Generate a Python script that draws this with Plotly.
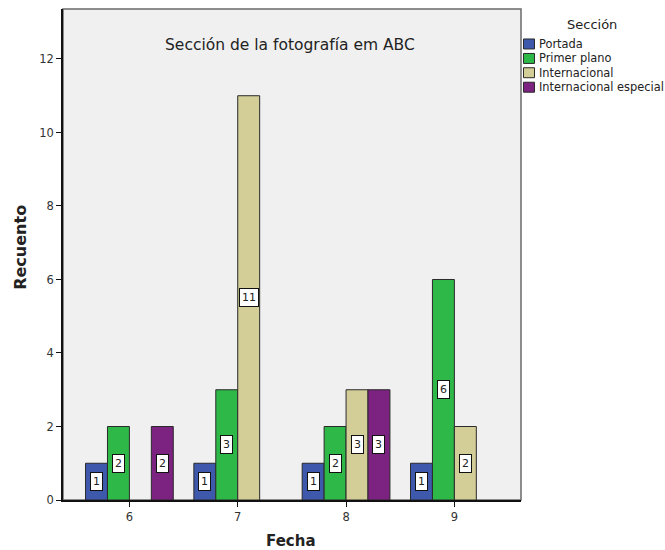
import plotly.graph_objects as go

# Counts of photographs per section and date
fechas = [6, 7, 8, 9]
secciones = ["Portada", "Primer plano", "Internacional", "Internacional especial"]
portada = [1, 1, 1, 1]
primer_plano = [2, 3, 2, 6]
internacional = [None, 11, 3, 2]
internacional_especial = [2, None, 3, None]
y_ticks = [0, 2, 4, 6, 8, 10, 12]

series = [portada, primer_plano, internacional, internacional_especial]
colores = ["#3E58AC", "#2EB848", "#D3CE97", "#7C2280"]

W, H = 665, 550
M_L, M_R, M_T, M_B = 62.5, 144, 8.5, 50
PW, PH = W - M_L - M_R, H - M_T - M_B
BARGAP = 0.19
FONT = "DejaVu Sans"


def px_x(px):
    return (px - M_L) / PW


def px_y(py):
    return (H - M_B - py) / PH


fig = go.Figure()
for nombre, valores, color in zip(secciones, series, colores):
    fig.add_trace(go.Bar(
        x=fechas, y=valores, name=nombre,
        marker=dict(color=color, line=dict(color="#2a2a2a", width=1)),
        showlegend=False, hoverinfo="x+y+name",
    ))

# Value labels in boxes at mid-height of each bar
slot = (1 - BARGAP) / len(series)
annotations = []
for i, valores in enumerate(series):
    off = (i - (len(series) - 1) / 2) * slot
    for f, v in zip(fechas, valores):
        if v is None:
            continue
        annotations.append(dict(
            x=f + off, y=v / 2, xref="x", yref="y", text=str(v),
            showarrow=False, bgcolor="white", bordercolor="#111",
            borderwidth=1, borderpad=2,
            font=dict(family=FONT, size=11, color="#222"),
        ))

# Chart title inside the plotting area
annotations.append(dict(
    x=px_x(290), y=px_y(45), xref="paper", yref="paper",
    text="Sección de la fotografía em ABC", showarrow=False,
    font=dict(family=FONT, size=15.5, color="#222"),
    xanchor="center", yanchor="middle",
))

# Axis titles
annotations.append(dict(
    x=px_x(291), y=px_y(541), xref="paper", yref="paper", text="<b>Fecha</b>",
    showarrow=False, font=dict(family=FONT, size=15, color="#222"),
    xanchor="center", yanchor="middle",
))
annotations.append(dict(
    x=px_x(20), y=px_y(247), xref="paper", yref="paper", text="<b>Recuento</b>",
    showarrow=False, textangle=-90, font=dict(family=FONT, size=16, color="#222"),
    xanchor="center", yanchor="middle",
))

# Legend drawn as swatches and labels to the right of the plot
shapes = [dict(type="rect", xref="paper", yref="paper", x0=0, x1=1, y0=0, y1=1,
               line=dict(color="#6a6a6a", width=1.5), layer="below")]
annotations.append(dict(
    x=px_x(592), y=px_y(24), xref="paper", yref="paper", text="Sección",
    showarrow=False, font=dict(family=FONT, size=13, color="#222"),
    xanchor="center", yanchor="middle",
))
leg_y = [43.5, 58, 72.3, 86.8]
for nombre, color, yc in zip(secciones, colores, leg_y):
    shapes.append(dict(
        type="rect", xref="paper", yref="paper",
        x0=px_x(523.5), x1=px_x(534.5), y0=px_y(yc + 5), y1=px_y(yc - 5),
        fillcolor=color, line=dict(color="#2a2a2a", width=1),
    ))
    annotations.append(dict(
        x=px_x(537), y=px_y(yc), xref="paper", yref="paper", text=nombre,
        showarrow=False, font=dict(family=FONT, size=11.4, color="#222"),
        xanchor="left", yanchor="middle",
    ))

fig.update_layout(
    width=W, height=H, autosize=False,
    margin=dict(l=M_L, r=M_R, t=M_T, b=M_B, pad=0),
    paper_bgcolor="white", plot_bgcolor="#F0F0F0",
    barmode="group", bargap=BARGAP, bargroupgap=0,
    font=dict(family=FONT, size=11, color="#333"),
    annotations=annotations, shapes=shapes,
    xaxis=dict(
        range=[5.387, 9.615], tickvals=fechas, ticktext=[str(f) for f in fechas],
        showgrid=False, zeroline=False, showline=True, linecolor="#111", linewidth=1.5,
        ticks="outside", ticklen=5, tickcolor="#111", tickwidth=1,
        tickfont=dict(family=FONT, size=11.5, color="#333"), automargin=False,
    ),
    yaxis=dict(
        range=[0, 13.36], tickvals=y_ticks,
        showgrid=False, zeroline=False, showline=True, linecolor="#111", linewidth=1.5,
        ticks="outside", ticklen=5, tickcolor="#111", tickwidth=1,
        tickfont=dict(family=FONT, size=11.5, color="#333"), automargin=False,
    ),
)

fig.write_html("out.html")
